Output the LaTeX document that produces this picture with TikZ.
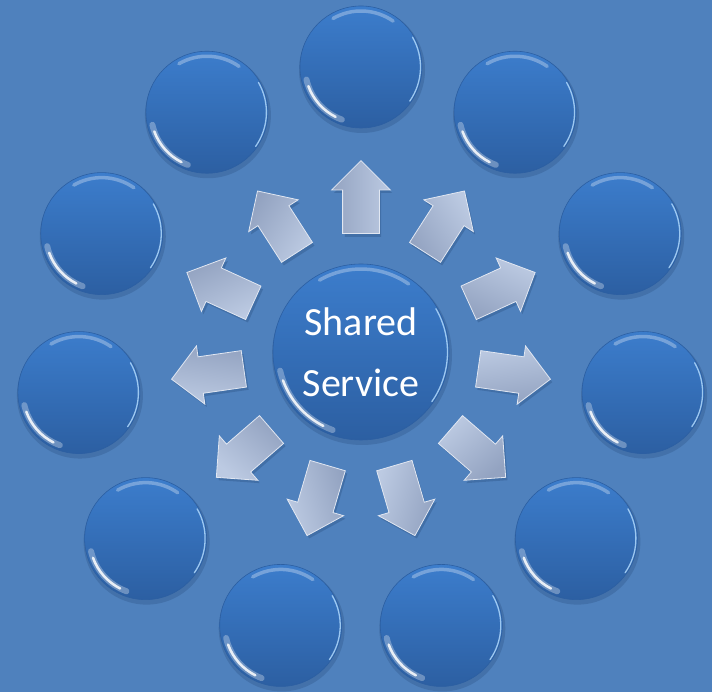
\documentclass[tikz,border=0pt]{standalone}
\usepackage{fontspec}
\setmainfont{Carlito}
\usetikzlibrary{shapes.arrows,calc}
\definecolor{bg}{HTML}{4F81BD}
\definecolor{ctop}{HTML}{3C7DCC}
\definecolor{cbot}{HTML}{2C5FA2}
\definecolor{atop}{HTML}{BCCAE2}
\definecolor{abot}{HTML}{93A3C1}
\definecolor{shad}{HTML}{2E5587}
\definecolor{rim}{HTML}{A8D2F8}
\tikzset{
  ball/.style={circle, inner sep=0pt, minimum size=#1, top color=ctop, bottom color=cbot, draw=cbot, line width=.6pt},
  ballshadow/.style={circle, inner sep=0pt, minimum size=#1, fill=shad, draw=none, opacity=.35},
  arr/.style={single arrow, inner xsep=0pt, inner ysep=18pt, minimum height=73pt, minimum width=58pt,
    single arrow head extend=11pt, single arrow head indent=0pt, anchor=tail},
  arrfill/.style={arr, top color=atop, bottom color=abot, shading angle=#1, draw=white!55!atop, line width=.8pt},
  arrshadow/.style={arr, fill=shad, opacity=.4, draw=none},
  label/.style={text=white, align=center, font=\fontsize{40}{61}\selectfont},
}
\newcommand\ballgloss[2]{%
  \draw[white, opacity=.3, line width=3.5pt, line cap=round] ([shift={(55:#2-5)}]#1.center) arc[start angle=55,end angle=120,radius=#2-5];
  \draw[white, opacity=.3, line width=6pt, line cap=round] ([shift={(193:#2-5)}]#1.center) arc[start angle=193,end angle=250,radius=#2-5];
  \draw[white, opacity=.85, line width=2.5pt, line cap=round] ([shift={(200:#2-5)}]#1.center) arc[start angle=200,end angle=243,radius=#2-5];
  \draw[rim, opacity=.9, line width=1.3pt, line cap=round] ([shift={(-35:#2-1.5)}]#1.center) arc[start angle=-35,end angle=30,radius=#2-1.5];
}
\begin{document}
\begin{tikzpicture}[x=1pt,y=1pt]
\fill[bg] (0,0) rectangle (712,692);
\useasboundingbox (0,0) rectangle (712,692);
\coordinate (c) at (361,340);
\foreach \i in {0,...,10}{
  \pgfmathsetmacro\ang{90-\i*360/11}
  \node[ballshadow=126pt] (bs\i) at ($(c)+(\ang:285)+(1,-3)$) {};
  \node[ball=122pt] (o\i) at ($(c)+(\ang:285)$) {};
  \ballgloss{o\i}{61}
  \node[arrshadow, rotate=\ang] (as\i) at ($(c)+(\ang:118)+(2,-3)$) {};
  \node[arrfill=-\ang, rotate=\ang] (a\i) at ($(c)+(\ang:118)$) {};
}
\node[ballshadow=180pt] (cs) at ($(c)+(1,-3)$) {};
\node[ball=176pt] (center) at (c) {};
\ballgloss{center}{88}
\node[label] (txt) at (c) {Shared\\Service};
\end{tikzpicture}
\end{document}
